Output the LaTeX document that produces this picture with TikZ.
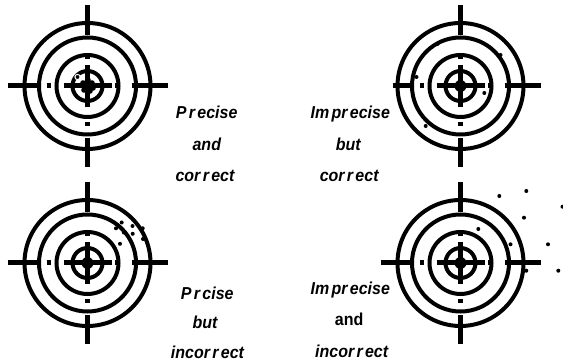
\documentclass[tikz,border=0pt]{standalone}
\usepackage{fontspec}
\setmainfont{Liberation Sans}
\newcommand\gapk{\kern2.3pt}
\newcommand\tallt[1]{\scalebox{1}[1.08]{#1}}
\tikzset{
  ring/.style={line width=4pt},
  hair/.style={line width=5pt},
  shot/.style={fill=black},
  wshot/.style={fill=black, draw=white, line width=1pt},
  lbl/.style={font=\fontsize{16}{18}\selectfont\bfseries\itshape, anchor=base, inner sep=0pt},
}
\newcommand\drawtarget[3]{%
  \begin{scope}[shift={(#1,#2)}]
    \foreach \r in {63,48.5,31,15} \draw[ring] (0,0) circle (\r pt);
    \draw[hair] (-#3,0) -- (-51,0) (-41,0) -- (-37,0) (-24,0) -- (24,0)
                (27,0) -- (31,0) (44,0) -- (80,0);
    \draw[hair] (0,-81) -- (0,-51) (0,-31) -- (0,-27) (0,-21) -- (0,21)
                (0,36) -- (0,40) (0,52) -- (0,81);
    \fill (0,0) circle (6pt);
  \end{scope}}
\begin{document}
\begin{tikzpicture}[x=1pt, y=-1pt]
  \useasboundingbox (0,0) rectangle (563,363);
  % targets
  \drawtarget{87.5}{86}{80}
  \drawtarget{460.5}{86}{68}
  \drawtarget{87.5}{263}{80}
  \drawtarget{460.5}{263}{80}
  % top-left shots
  \foreach \p in {(83,83),(92,83),(84,90),(90,91),(88,80),(93,88)}
    \fill[shot] \p circle (2.8pt);
  \draw[wshot] (77.5,77) circle (2.6pt);
  % top-right shots
  \foreach \p in {(437.5,44),(500.5,55),(416.5,77),(484.3,93),(425.7,126),(496.7,118.5)}
    \fill[shot] \p circle (2pt);
  % bottom-left shots
  \foreach \p in {(121.7,222.5),(132.5,226),(142.7,228.3),(116,228.3),(123.8,232.5),(132.7,233.8),(143,239),(120,243.8)}
    \fill[shot] \p circle (2pt);
  % bottom-right shots
  \foreach \p in {(499.3,196),(526.3,191),(562.5,206.7),(524,217.7),(478.3,229),(510.5,244.3),(548,244.3),(526.3,270.7),(558.3,270.7)}
    \fill[shot] \p circle (2pt);
  % labels
  \node[lbl] (t1) at (206.7,119) {\tallt{P\gapk r\gapk ecise}};
  \node[lbl] (t2) at (206.8,151) {\tallt{and}};
  \node[lbl] (t3) at (205,182) {\tallt{cor\gapk r\gapk ect}};
  \node[lbl] (t4) at (350.3,119) {\tallt{Im\gapk pr\gapk ecise}};
  \node[lbl] (t5) at (348.3,151) {\tallt{but}};
  \node[lbl] (t6) at (349.2,182) {\tallt{cor\gapk r\gapk ect}};
  \node[lbl] (t7) at (207.3,300) {\tallt{P\gapk r\gapk cise}};
  \node[lbl] (t8) at (205,328.5) {\tallt{but}};
  \node[lbl] (t9) at (207.5,358.5) {\tallt{incor\gapk r\gapk ect}};
  \node[lbl] (t10) at (350.3,295) {\tallt{Im\gapk pr\gapk ecise}};
  \node[lbl, font=\fontsize{16}{18}\selectfont\bfseries\upshape] (t11) at (349.2,326) {\tallt{and}};
  \node[lbl] (t12) at (351.7,357.5) {\tallt{incor\gapk r\gapk ect}};
\end{tikzpicture}
\end{document}
